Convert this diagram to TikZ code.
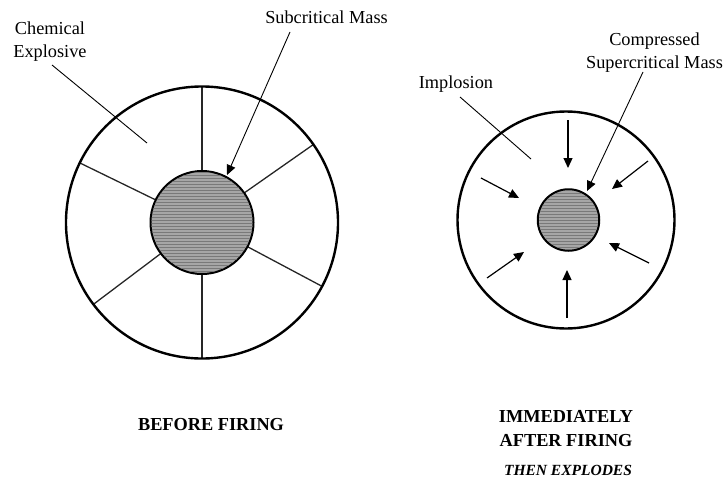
\documentclass[tikz,border=0pt]{standalone}
\usepackage{fontspec}
\setmainfont{Liberation Serif}
\usetikzlibrary{arrows.meta,patterns,calc}
\begin{document}
\begin{tikzpicture}[x=1pt,y=-1pt,
  lbl/.style={font=\fontsize{18.3}{22.5}\selectfont, inner sep=0pt, align=center},
  headline/.style={font=\fontsize{18.3}{23.5}\selectfont\bfseries, inner sep=0pt, align=center},
  shell/.style={draw=black, line width=2.4pt},
  core/.style={draw=black, line width=2pt, fill=gray!70},
  spoke/.style={draw=black!85, line width=1.3pt},
  leader/.style={draw=black, line width=0.9pt},
  ptr/.style={draw=black, line width=0.9pt, -{Triangle[length=10pt,width=9pt]}},
  push/.style={draw=black, line width=1.2pt, -{Triangle[length=10pt,width=9pt]}}]
\useasboundingbox (0,0) rectangle (727,479);

% ---------- left: before firing ----------
\coordinate (L) at (202,222.5);
\foreach \a in {90,35,-28,-90,-143,154}
  \draw[spoke] ($(L)+(-\a:51.5)$) -- ($(L)+(-\a:136)$);
\node[shell, circle, minimum size=272pt, inner sep=0pt] (Lout) at (L) {};
\node[core, circle, minimum size=103pt, inner sep=0pt] (Lin) at (L) {};
\fill[pattern=horizontal lines, pattern color=gray!95!black] (L) circle (50.5pt);

\node[lbl, anchor=base] (chem) at (50,57) {Chemical\\Explosive};
\coordinate (chemA) at (52,65);
\coordinate (chemB) at (147,143);
\draw[leader] (chemA) -- (chemB);

\node[lbl, anchor=base] (sub) at (326.5,23) {Subcritical Mass};
\coordinate (subA) at (290,32);
\coordinate (subB) at (227,175);
\draw[ptr] (subA) -- (subB);

\node[headline, anchor=base] (before) at (211,430) {BEFORE FIRING};

% ---------- right: immediately after firing ----------
\coordinate (R) at (566,220);
\coordinate (Rc) at (568.5,220);
\node[shell, circle, minimum size=217pt, inner sep=0pt] (Rout) at (R) {};
\node[core, circle, minimum size=61.5pt, inner sep=0pt] (Rin) at (Rc) {};
\fill[pattern=horizontal lines, pattern color=gray!95!black] (Rc) circle (29.5pt);

\coordinate (p1a) at (568,120); \coordinate (p1b) at (568,168);
\coordinate (p2a) at (648,161); \coordinate (p2b) at (612,189);
\coordinate (p3a) at (481,178); \coordinate (p3b) at (519,198);
\coordinate (p4a) at (487,278); \coordinate (p4b) at (524,252);
\coordinate (p5a) at (649,263); \coordinate (p5b) at (609,243);
\coordinate (p6a) at (567,318); \coordinate (p6b) at (567,270);
\foreach \i in {1,...,6}
  \draw[push] (p\i a) -- (p\i b);

\node[lbl, anchor=base] (imp) at (456,88) {Implosion};
\coordinate (impA) at (460,97);
\coordinate (impB) at (531,159);
\draw[leader] (impA) -- (impB);

\node[lbl, anchor=base] (comp) at (654.5,68) {Compressed\\Supercritical Mass};
\coordinate (compA) at (643,72);
\coordinate (compB) at (587,191);
\draw[ptr] (compA) -- (compB);

\node[headline, anchor=base] (after) at (566,446) {IMMEDIATELY\\AFTER FIRING};
\node[font=\fontsize{15.5}{18}\selectfont\bfseries\itshape, inner sep=0pt, anchor=base] (then) at (568,475) {THEN EXPLODES};
\end{tikzpicture}
\end{document}
